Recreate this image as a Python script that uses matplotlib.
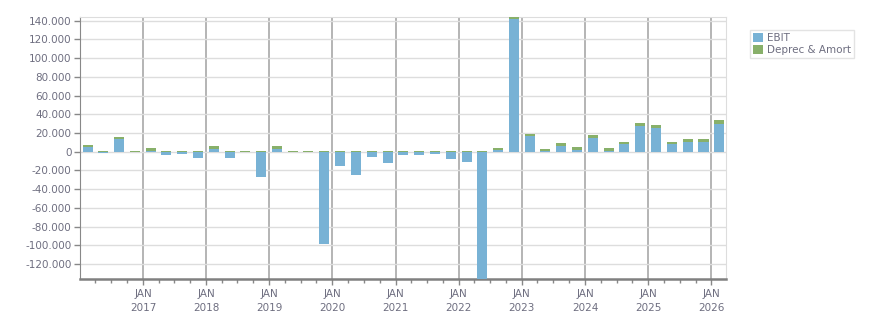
"""EBIT and depreciation & amortisation by quarter, stacked bars."""
import matplotlib

matplotlib.use("Agg")
import matplotlib.dates as mdates
import matplotlib.pyplot as plt
import numpy as np
import pandas as pd
from matplotlib.ticker import FuncFormatter

quarters = pd.period_range("2016Q1", "2026Q1", freq="Q")
ebit = [
    5400, -1800, 13200, -300,
    1100, -3900, -2900, -6400,
    3200, -6400, -300, -26800,
    3200, -200, -200, -98500,
    -15000, -25000, -5400, -11800,
    -3200, -3200, -2100, -7500,
    -10700, -145000, 2100, 141500,
    17100, 1100, 6400, 2100,
    15000, 1100, 7900, 27900,
    25000, 7900, 10000, 10000,
    30000,
]
deprec = [
    2100, 600, 2900, 700,
    3200, 500, 400, 400,
    3200, 400, 700, 500,
    3200, 600, 600, 600,
    500, 500, 500, 500,
    600, 500, 500, 500,
    500, 500, 2200, 2000,
    2200, 2100, 3200, 3300,
    3200, 3200, 2100, 2500,
    3200, 2100, 3200, 3200,
    3600,
]

BLUE = "#78b2d5"
GREEN = "#88b06a"
TEXT = "#6e6e80"

mid = [p.start_time + (p.end_time - p.start_time) / 2 for p in quarters]
ebit_arr = np.array(ebit, dtype=float)
deprec_arr = np.array(deprec, dtype=float)
deprec_bottom = np.clip(ebit_arr, 0, None)

fig = plt.figure(figsize=(8.76, 3.13), dpi=100)
ax = fig.add_axes([80 / 876, 34 / 313, 646 / 876, 262 / 313])

width = 58
ax.bar(mid, ebit_arr, width=width, color=BLUE, label="EBIT", zorder=3)
ax.bar(mid, deprec_arr, width=width, bottom=deprec_bottom, color=GREEN, label="Deprec & Amort", zorder=3)

ax.set_ylim(-136000, 144000)
ax.set_xlim(pd.Timestamp("2016-01-03"), pd.Timestamp("2026-03-26"))
ax.set_yticks(np.arange(-120000, 140001, 20000))
ax.yaxis.set_major_formatter(FuncFormatter(lambda v, _: f"{int(v):,}".replace(",", ".")))
ax.grid(axis="y", color="#dddddd", linewidth=1, zorder=0)

ax.xaxis.set_major_locator(mdates.YearLocator(1, month=1, day=1))
ax.xaxis.set_minor_locator(mdates.MonthLocator(bymonth=[4, 7, 10]))
ax.xaxis.set_major_formatter(FuncFormatter(lambda v, _: "JAN\n" + mdates.num2date(v).strftime("%Y")))
ax.grid(axis="x", which="major", color="#b4b4b4", linewidth=1.4, zorder=1)

ax.tick_params(axis="both", which="both", colors="#888888", labelcolor=TEXT, labelsize=7.5)
ax.tick_params(axis="x", which="major", length=4, width=1, pad=3)
ax.tick_params(axis="x", which="minor", length=3, width=1)
ax.tick_params(axis="y", length=4, width=1, pad=2)
for label in ax.get_xticklabels():
    label.set_linespacing(1.5)

for side in ("top", "right"):
    ax.spines[side].set_color("#dddddd")
ax.spines["left"].set_color("#888888")
ax.spines["bottom"].set_color("#808080")
ax.spines["bottom"].set_linewidth(1.8)

leg = fig.legend(
    loc="upper left",
    bbox_to_anchor=(750 / 876, 1 - 30 / 313),
    borderaxespad=0,
    fontsize=7.5,
    frameon=True,
    fancybox=False,
    handlelength=0.95,
    handleheight=0.95,
    handletextpad=0.35,
    borderpad=0.3,
    labelspacing=0.2,
    labelcolor=TEXT,
)
leg.get_frame().set_edgecolor("#dddddd")
leg.get_frame().set_linewidth(1)

fig.savefig("out.png", dpi=100, facecolor="white")
